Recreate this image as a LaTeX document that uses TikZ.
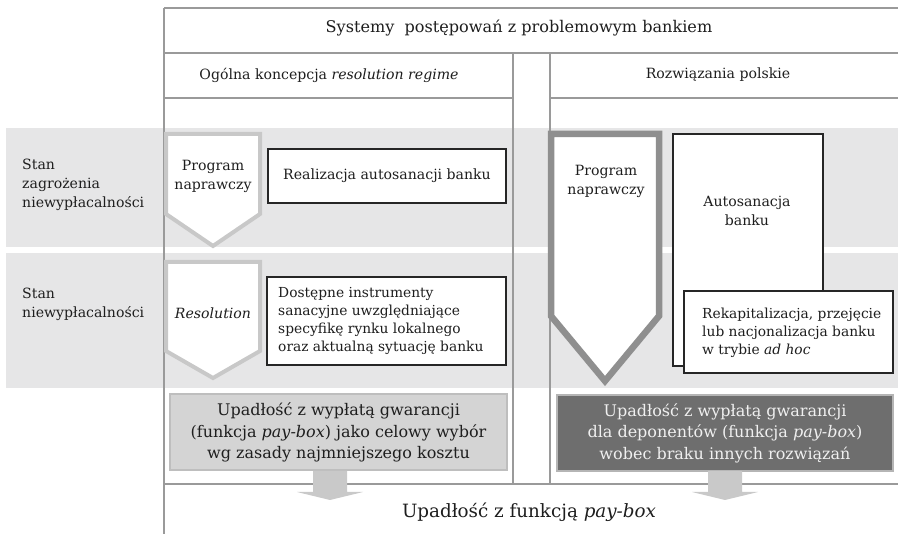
\documentclass[tikz,border=0pt]{standalone}
\usepackage{fontspec}
\setmainfont{DejaVu Serif}
\definecolor{linegray}{HTML}{9A9A9A}
\definecolor{bandgray}{HTML}{E6E6E7}
\definecolor{pentlight}{HTML}{C8C8C8}
\definecolor{pentdark}{HTML}{8F8F8F}
\definecolor{boxlight}{HTML}{D4D4D4}
\definecolor{boxlightrim}{HTML}{BEBEBE}
\definecolor{boxdark}{HTML}{6E6E6E}
\definecolor{boxdarkrim}{HTML}{B5B5B5}
\definecolor{arrowgray}{HTML}{C9C9C9}
\definecolor{textdark}{HTML}{1E1E1E}
\begin{document}
\begin{tikzpicture}[x=1pt,y=-1pt,
  rule/.style={draw=linegray, line width=2.2pt},
  band/.style={fill=bandgray},
  pentl/.style={draw=pentlight, fill=white, line width=4pt, line join=miter},
  pentd/.style={draw=pentdark, fill=white, line width=6.5pt, line join=miter},
  whitebox/.style={draw=black!85, fill=white, line width=1.3pt, inner sep=0pt},
  lightbox/.style={draw=boxlightrim, fill=boxlight, line width=2pt, inner sep=0pt},
  darkbox/.style={draw=boxdarkrim, fill=boxdark, line width=2pt, inner sep=0pt},
  label/.style={text=textdark, inner sep=0pt, font=\fontsize{14.1}{19}\selectfont},
  small/.style={text=textdark, inner sep=0pt, font=\fontsize{13.8}{18}\selectfont},
  big/.style={text=textdark, inner sep=0pt, font=\fontsize{16}{21.5}\selectfont},
  blockarrow/.style={fill=arrowgray}
]
% canvas
\fill[white] (0,0) rectangle (898,534);
\useasboundingbox (0,0) rectangle (898,534);

% grey bands for the two bank states
\fill[band] (6,128) rectangle (898,247);
\fill[band] (6,253) rectangle (898,388);

% frame of the table
\draw[rule] (164,8) -- (898,8);
\draw[rule] (164,53) -- (898,53);
\draw[rule] (164,98) -- (513,98);
\draw[rule] (550,98) -- (898,98);
\draw[rule] (513,53) -- (513,484);
\draw[rule] (550,53) -- (550,484);
\draw[rule] (164,484) -- (898,484);
\draw[rule] (164,8) -- (164,534);

% headings
\node[label, font=\fontsize{16.1}{20}\selectfont] (title) at (519,28) {Systemy\ \ postępowań z problemowym bankiem};
\node[label] (general) at (329,75) {Ogólna koncepcja \textit{resolution regime}};
\node[label] (polish) at (718,75) {Rozwiązania polskie};

% row labels
\node[label, align=left, anchor=west] (threat) at (22,185) {Stan\\zagrożenia\\niewypłacalności};
\node[label, align=left, anchor=west] (insolv) at (22,304) {Stan\\niewypłacalności};

% general concept: pentagon markers
\draw[pentl] (166,134) -- (260,134) -- (260,214) -- (213,246) -- (166,214) -- cycle;
\node[label, align=center] (progA) at (213,176) {Program\\naprawczy};
\draw[pentl] (166,262) -- (260,262) -- (260,351) -- (213,378) -- (166,351) -- cycle;
\node[label] (resol) at (213,313) {\textit{Resolution}};

% general concept: boxes
\node[whitebox, minimum width=238pt, minimum height=54pt] (selfA) at (387,176) {};
\node[label] (selfAt) at (selfA.center) {Realizacja autosanacji banku};
\node[whitebox, minimum width=239pt, minimum height=88pt] (tools) at (386.5,321) {};
\node[small, align=left, anchor=west] (toolst) at (278,321)
  {Dostępne instrumenty\\sanacyjne uwzględniające\\specyfikę rynku lokalnego\\oraz aktualną sytuację banku};
\node[lightbox, minimum width=337pt, minimum height=76pt] (payA) at (338.5,432.5) {};
\node[big, align=center] (payAt) at (payA.center)
  {Upadłość z wypłatą gwarancji\\(funkcja \textit{pay-box}) jako celowy wybór\\wg zasady najmniejszego kosztu};

% Polish solutions
\draw[pentd] (551,134) -- (659,134) -- (659,316) -- (605,381) -- (551,316) -- cycle;
\node[label, align=center] (progB) at (606,181) {Program\\naprawczy};
\node[whitebox, minimum width=150pt, minimum height=232pt] (selfB) at (748,250) {};
\node[label, align=center] (selfBt) at (747,211) {Autosanacja\\banku};
\node[whitebox, minimum width=209pt, minimum height=82pt] (recap) at (788.5,332) {};
\node[small, align=left, anchor=west] (recapt) at (702,333)
  {Rekapitalizacja, przejęcie\\lub nacjonalizacja banku\\w trybie \textit{ad hoc}};
\node[darkbox, minimum width=336pt, minimum height=76pt] (payB) at (725,433) {};
\node[big, align=center, text=white!94!black] (payBt) at (payB.center)
  {Upadłość z wypłatą gwarancji\\dla deponentów (funkcja \textit{pay-box})\\wobec braku innych rozwiązań};

% block arrows into the common outcome
\fill[blockarrow] (313,471) -- (347,471) -- (347,492) -- (363,492) -- (330,500)
  -- (297,492) -- (313,492) -- cycle;
\fill[blockarrow] (708,471) -- (742,471) -- (742,492) -- (758,492) -- (725,500)
  -- (692,492) -- (708,492) -- cycle;

\node[label, font=\fontsize{18.3}{22}\selectfont] (outcome) at (529,512) {Upadłość z funkcją \textit{pay-box}};
\end{tikzpicture}
\end{document}
